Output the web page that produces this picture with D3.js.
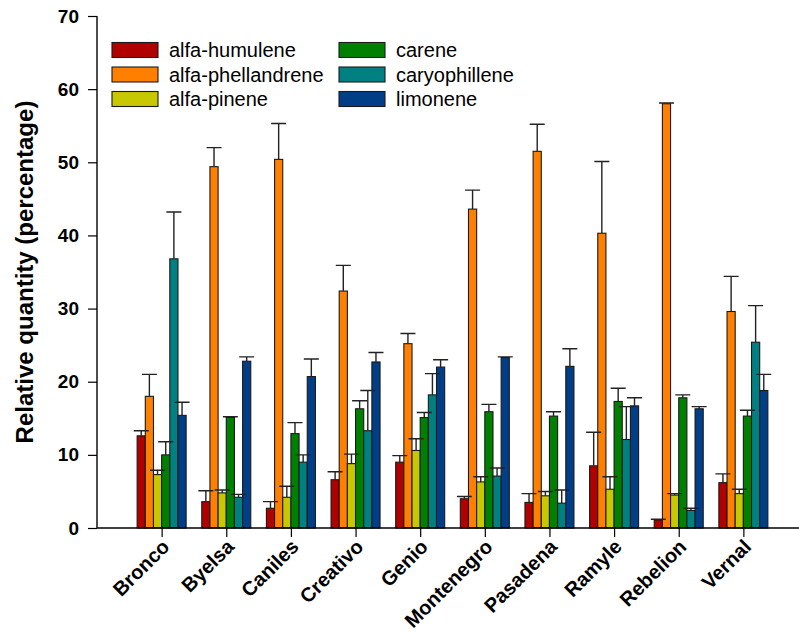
<!DOCTYPE html>
<html>
<head>
<meta charset="utf-8">
<script src="https://cdn.jsdelivr.net/npm/d3@7"></script>
<style>
  html, body { margin: 0; padding: 0; background: #fff; }
  text { font-family: Arial, "Liberation Sans", sans-serif; }
</style>
</head>
<body>
<div id="canvas"></div>
<script>
'use strict';

// Cultivars along the x axis.
const categories = ['Bronco', 'Byelsa', 'Caniles', 'Creativo', 'Genio',
  'Montenegro', 'Pasadena', 'Ramyle', 'Rebelion', 'Vernal'];

const seriesNames = ['alfa-humulene', 'alfa-phellandrene', 'alfa-pinene',
  'carene', 'caryophillene', 'limonene'];

// Mean relative quantity (%) per cultivar, plus the upper error (SD).
const humulene = [12.6, 3.6, 2.7, 6.6, 9.0, 4.0, 3.5, 8.5, 1.1, 6.2];
const humuleneErr = [0.7, 1.5, 0.9, 1.1, 0.9, 0.3, 1.2, 4.6, 0.1, 1.2];
const phellandrene = [18.0, 49.4, 50.4, 32.4, 25.2, 43.6, 51.5, 40.3, 58.0, 29.6];
const phellandreneErr = [3.0, 2.6, 4.9, 3.5, 1.4, 2.6, 3.7, 9.8, 0.1, 4.8];
const pinene = [7.3, 4.8, 4.2, 8.8, 10.6, 6.3, 4.4, 5.3, 4.5, 4.7];
const pineneErr = [0.6, 0.4, 1.5, 1.3, 1.6, 0.7, 0.6, 1.7, 0.2, 0.6];
const carene = [10.0, 15.1, 12.9, 16.3, 15.1, 15.9, 15.3, 17.3, 17.8, 15.3];
const careneErr = [1.8, 0.1, 1.5, 1.1, 0.7, 1.0, 0.6, 1.8, 0.4, 0.8];
const caryophyllene = [36.8, 4.2, 9.0, 13.3, 18.2, 7.1, 3.4, 12.1, 2.4, 25.4];
const caryophylleneErr = [6.4, 0.4, 1.0, 5.5, 2.9, 1.1, 1.8, 4.5, 0.3, 5.0];
const limonene = [15.4, 22.8, 20.7, 22.7, 22.0, 23.3, 22.1, 16.7, 16.3, 18.8];
const limoneneErr = [1.8, 0.6, 2.4, 1.3, 1.0, 0.1, 2.4, 1.1, 0.3, 2.2];

const yTicks = [0, 10, 20, 30, 40, 50, 60, 70];

const seriesValues = [humulene, phellandrene, pinene, carene, caryophyllene, limonene];
const seriesErrors = [humuleneErr, phellandreneErr, pineneErr, careneErr,
  caryophylleneErr, limoneneErr];
const colors = ['#b00000', '#ff8000', '#c8c800', '#008000', '#008080', '#003f87'];

const width = 799;
const height = 634;
const margins = {top: 16, left: 97, bottom: 106};
const plotBottom = height - margins.bottom;

const svg = d3.select('#canvas').append('svg')
    .attr('width', width)
    .attr('height', height);

/* Categories sit at 1..10 on a numeric axis that runs 0..11, as in the original. */
const x = d3.scaleLinear()
    .domain([0, categories.length + 1])
    .range([margins.left, 808]);
const y = d3.scaleLinear()
    .domain([0, 70])
    .range([plotBottom, margins.top]);

const groupWidth = 49;
const inner = d3.scaleBand()
    .domain(seriesNames)
    .range([-groupWidth / 2, groupWidth / 2])
    .padding(0);

// One record per bar, built from the named arrays.
const bars = [];
seriesNames.forEach((name, s) => {
  categories.forEach((cat, i) => {
    bars.push({name, cat, i, value: seriesValues[s][i], err: seriesErrors[s][i],
      color: colors[s]});
  });
});

const barG = svg.append('g');
barG.selectAll('rect')
    .data(bars)
    .join('rect')
    .attr('x', (d) => x(d.i + 1) + inner(d.name))
    .attr('y', (d) => y(d.value))
    .attr('width', inner.bandwidth())
    .attr('height', (d) => y(0) - y(d.value))
    .attr('fill', (d) => d.color)
    .attr('stroke', '#1a1a1a')
    .attr('stroke-width', 1.1);

/* Upper error bars only, with a cap wider than the bar. */
const capHalf = 7.5;
const errG = svg.append('g')
    .attr('stroke', '#222')
    .attr('stroke-width', 1.4);
errG.selectAll('path')
    .data(bars)
    .join('path')
    .attr('fill', 'none')
    .attr('d', (d) => {
      const cx = x(d.i + 1) + inner(d.name) + inner.bandwidth() / 2;
      const top = y(d.value + d.err);
      return `M${cx},${y(d.value)}V${top}M${cx - capHalf},${top}H${cx + capHalf}`;
    });

// Y axis
const yAxis = svg.append('g')
    .attr('transform', `translate(${margins.left},0)`)
    .call(d3.axisLeft(y).tickValues(yTicks).tickSize(9).tickPadding(9)
        .tickFormat(d3.format('d')));
yAxis.select('.domain').attr('stroke', '#000').attr('stroke-width', 1.4)
    .attr('d', `M0,${y(70)}V${y(0)}`);
yAxis.selectAll('.tick line').attr('stroke', '#000').attr('stroke-width', 1.2);
yAxis.selectAll('.tick text')
    .attr('fill', '#000')
    .style('font-size', '19px')
    .style('font-weight', 'bold');

// X axis
const xAxis = svg.append('g')
    .attr('transform', `translate(0,${plotBottom})`)
    .call(d3.axisBottom(x)
        .tickValues(d3.range(1, categories.length + 1))
        .tickSize(9)
        .tickFormat(''));
xAxis.select('.domain').attr('stroke', '#000').attr('stroke-width', 1.4)
    .attr('d', `M${margins.left},0H${width}`);
xAxis.selectAll('.tick line').attr('stroke', '#000').attr('stroke-width', 1.2);

svg.append('g')
    .selectAll('text')
    .data(categories)
    .join('text')
    .attr('transform', (d, i) => `translate(${x(i + 1) + 9},${plotBottom + 20}) rotate(-45)`)
    .attr('text-anchor', 'end')
    .style('font-size', '20px')
    .style('font-weight', 'bold')
    .text((d) => d);

// Axis title
svg.append('text')
    .attr('transform', 'translate(33,272) rotate(-90)')
    .attr('text-anchor', 'middle')
    .style('font-size', '24px')
    .style('font-weight', 'bold')
    .text('Relative quantity (percentage)');

// Legend: two columns of three
const legend = svg.append('g');
const legendItems = legend.selectAll('g')
    .data(seriesNames)
    .join('g')
    .attr('transform', (d, i) =>
      `translate(${i < 3 ? 112 : 339},${50 + (i % 3) * 24.5})`);
legendItems.append('rect')
    .attr('x', 0)
    .attr('y', -7.5)
    .attr('width', 46)
    .attr('height', 15)
    .attr('fill', (d, i) => colors[i])
    .attr('stroke', '#1a1a1a')
    .attr('stroke-width', 1.1);
legendItems.append('text')
    .attr('x', 57)
    .attr('y', 7)
    .style('font-size', '20px')
    .text((d) => d);
</script>
</body>
</html>
